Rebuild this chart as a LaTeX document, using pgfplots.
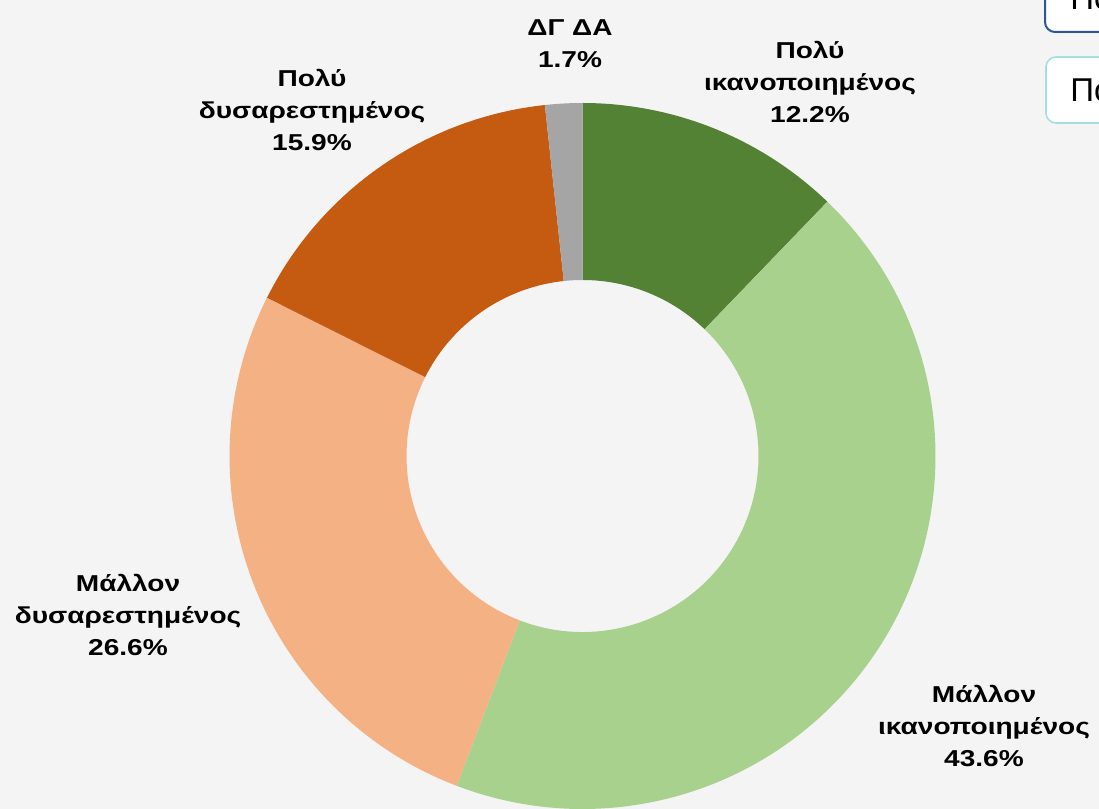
\documentclass[border=0pt]{standalone}
\usepackage{fontspec}
\setmainfont{Liberation Sans}
\newfontfamily\widefont{Liberation Sans}[FakeStretch=1.22]
\usepackage{pgfplots}
\usepackage{pgfplotstable}
\pgfplotsset{compat=1.18}
\definecolor{bg}{HTML}{F4F4F4}
\definecolor{cA}{HTML}{548235}
\definecolor{cB}{HTML}{A9D18E}
\definecolor{cC}{HTML}{F4B183}
\definecolor{cD}{HTML}{C55A11}
\definecolor{cE}{HTML}{A5A5A5}
\definecolor{boxA}{HTML}{2F5597}
\definecolor{boxB}{HTML}{A8DEDF}
% shares in percent, clockwise from the top
\pgfplotstableread{
label value
A 12.2
B 43.6
C 26.6
D 15.9
E 1.7
}\sharetable
\newcommand{\cx}{582.5}
\newcommand{\cy}{353}
\newcommand{\slice}[3]{%
  \fill[#3] (axis cs:{\cx+353*cos(#1)},{\cy+353*sin(#1)})
    arc[start angle=#1, end angle=#2, radius=176.5pt]
    -- (axis cs:{\cx+176*cos(#2)},{\cy+176*sin(#2)})
    arc[start angle=#2, end angle=#1, radius=88pt] -- cycle;}
\pgfplotstablegetelem{0}{value}\of\sharetable \global\let\vA\pgfplotsretval
\pgfplotstablegetelem{1}{value}\of\sharetable \global\let\vB\pgfplotsretval
\pgfplotstablegetelem{2}{value}\of\sharetable \global\let\vC\pgfplotsretval
\pgfplotstablegetelem{3}{value}\of\sharetable \global\let\vD\pgfplotsretval
\pgfplotstablegetelem{4}{value}\of\sharetable \global\let\vE\pgfplotsretval
\pgfmathsetmacro\aA{90}
\pgfmathsetmacro\aB{\aA-3.6*\vA}
\pgfmathsetmacro\aC{\aB-3.6*\vB}
\pgfmathsetmacro\aD{\aC-3.6*\vC}
\pgfmathsetmacro\aE{\aD-3.6*\vD}
\pgfmathsetmacro\aF{\aE-3.6*\vE}
\begin{document}
\begin{tikzpicture}
\begin{axis}[
  hide axis, scale only axis,
  width=549.5pt, height=404.5pt,
  xmin=0, xmax=1099, ymin=0, ymax=809,
  clip=false,
]
\coordinate (bl) at (axis cs:0,0);
\coordinate (tr) at (axis cs:1099,809);
\begin{scope}
\clip (axis cs:0,0) rectangle (axis cs:1099,809);
\fill[bg] (axis cs:0,0) rectangle (axis cs:1099,809);
\slice{\aA}{\aB}{cA}
\slice{\aB}{\aC}{cB}
\slice{\aC}{\aD}{cC}
\slice{\aD}{\aE}{cD}
\slice{\aE}{\aF}{cE}
% legend-like boxes, cut at the right edge
\draw[boxA, line width=1pt, fill=white, rounded corners=5pt] (axis cs:1045,777) rectangle (axis cs:1300,840);
\node[anchor=base west, font=\fontsize{16.5}{20}\selectfont, inner sep=0pt] at (axis cs:1070,799) {Πολύ ικανοποιημένος};
\draw[boxB, line width=0.8pt, fill=white, rounded corners=5pt] (axis cs:1046,686) rectangle (axis cs:1300,752);
\node[anchor=base west, font=\fontsize{16.5}{20}\selectfont, inner sep=0pt] at (axis cs:1070,707) {Πολύ δυσαρεστημένος};
\end{scope}
\tikzset{lab/.style={align=center, font=\widefont\fontsize{11.5}{16}\selectfont\bfseries, inner sep=0pt}}
\node[lab] at (axis cs:570,765) {ΔΓ ΔΑ\\1.7\%};
\node[lab] at (axis cs:810,727) {Πολύ\\ικανοποιημένος\\12.2\%};
\node[lab] at (axis cs:312,699) {Πολύ\\δυσαρεστημένος\\15.9\%};
\node[lab] at (axis cs:128,194) {Μάλλον\\δυσαρεστημένος\\26.6\%};
\node[lab] at (axis cs:984,83) {Μάλλον\\ικανοποιημένος\\43.6\%};
\end{axis}
\pgfresetboundingbox
\path[use as bounding box] (bl) rectangle (tr);
\end{tikzpicture}
\end{document}
